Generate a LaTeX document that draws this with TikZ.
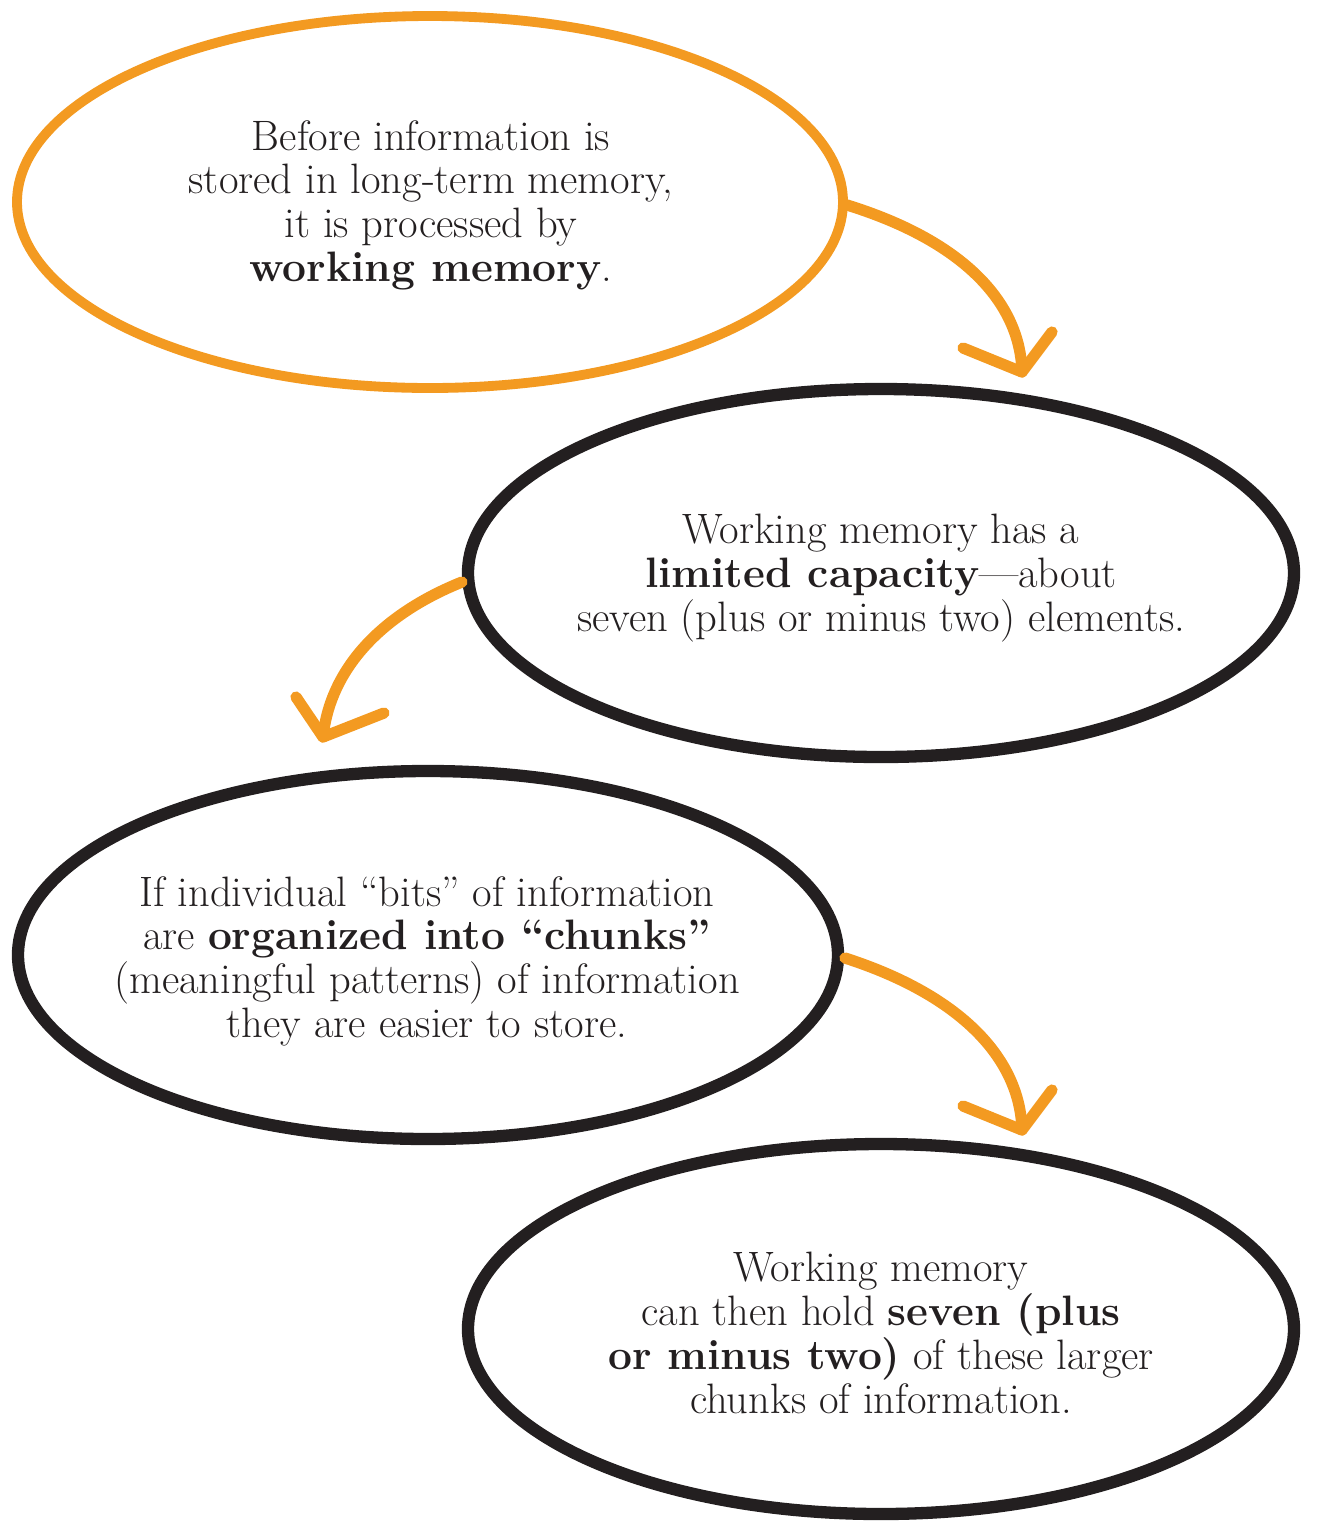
\documentclass[tikz,border=0pt]{standalone}
\usepackage{fontspec}
\definecolor{brandorange}{HTML}{F39A21}
\definecolor{inkblack}{HTML}{231F20}
\tikzset{
  bubble/.style={draw=inkblack, line width=7pt},
  orangebubble/.style={draw=brandorange, line width=5.6pt},
  flowarrow/.style={draw=brandorange, line width=6.4pt, line cap=round, line join=round},
  txt/.style={align=center, text=inkblack, inner sep=0pt,
              font=\fontsize{24.2}{24.9}\selectfont},
}
\begin{document}
\begin{tikzpicture}[x=0.02cm, y=-0.02cm]
\useasboundingbox (0,0) rectangle (1327,1536);
% bubbles
\coordinate (c1) at (430,202);
\coordinate (c2) at (881,573);
\coordinate (c3) at (428,955);
\coordinate (c4) at (881,1329);
\draw[orangebubble] (c1) ellipse [x radius=413, y radius=186];
\draw[bubble] (c2) ellipse [x radius=413, y radius=184];
\draw[bubble] (c3) ellipse [x radius=410, y radius=184];
\draw[bubble] (c4) ellipse [x radius=413, y radius=185];
% texts
\node[txt] (t1) at (431,205) {Before information is\\stored in long-term memory,\\it is processed by\\\textbf{working memory}.};
\node[txt] (t2) at (881,578) {Working memory has a\\\textbf{limited capacity}—about\\seven (plus or minus two) elements.};
\node[txt] (t3) at (427,961) {If individual “bits” of information\\are \textbf{organized into “chunks”}\\(meaningful patterns) of information\\they are easier to store.};
\node[txt] (t4) at (881,1333) {Working memory\\can then hold \textbf{seven (plus}\\\textbf{or minus two)} of these larger\\chunks of information.};
% arrow ends
\coordinate (a1s) at (847,205);
\coordinate (a1t) at (1022,372);
\coordinate (a1l) at (963,348);
\coordinate (a1r) at (1052,332);
\coordinate (a2s) at (462,582);
\coordinate (a2t) at (323,737);
\coordinate (a2l) at (296,697);
\coordinate (a2r) at (384,713);
\coordinate (a3s) at (845,958);
\coordinate (a3t) at (1022,1130);
\coordinate (a3l) at (963,1106);
\coordinate (a3r) at (1052,1090);
% arrows
\draw[flowarrow] (a1s) .. controls (960,240) and (1020,300) .. (a1t);
\draw[flowarrow] (a1l) -- (a1t) -- (a1r);
\draw[flowarrow] (a2s) .. controls (380,615) and (330,670) .. (a2t);
\draw[flowarrow] (a2l) -- (a2t) -- (a2r);
\draw[flowarrow] (a3s) .. controls (960,995) and (1020,1058) .. (a3t);
\draw[flowarrow] (a3l) -- (a3t) -- (a3r);
\end{tikzpicture}
\end{document}
